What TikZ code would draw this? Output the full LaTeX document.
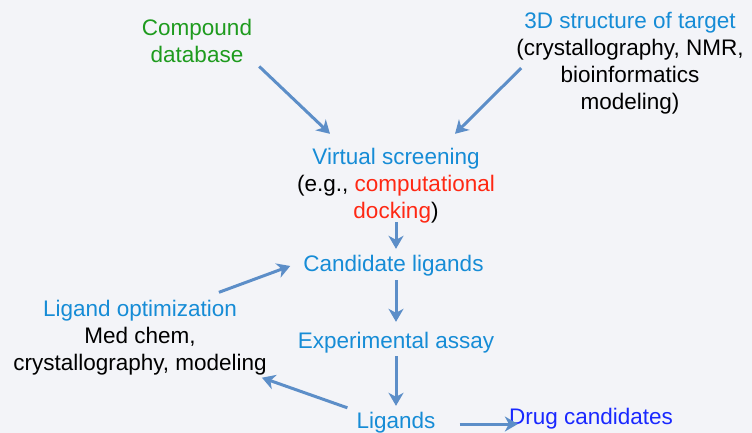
\documentclass[tikz,border=0pt]{standalone}
\usepackage{fontspec}
\setmainfont{Liberation Sans}
\usetikzlibrary{arrows.meta}
\definecolor{bgcol}{RGB}{243,244,248}
\definecolor{tblue}{RGB}{22,140,214}
\definecolor{tgreen}{RGB}{30,155,30}
\definecolor{tred}{RGB}{255,40,20}
\definecolor{dblue}{RGB}{25,40,255}
\definecolor{arrcol}{RGB}{92,142,200}
\begin{document}
\begin{tikzpicture}[x=1pt,y=-1pt,
        lbl/.style={inner sep=0pt,align=center,font=\fontsize{22.5}{27}\selectfont},
        arr/.style={draw=arrcol,line width=3pt,-{Stealth[length=13pt,width=15pt,inset=4pt]}}]
        \useasboundingbox[fill=bgcol] (0,0) rectangle (752,433);
        % text blocks
        \node[lbl,text=tgreen] (db) at (197,40.5) {Compound\\database};
        \node[lbl] (target) at (630,63) {\textcolor{tblue}{3D structure of target}\\(crystallography, NMR,\\bioinformatics\\modeling)};
        \node[lbl] (vs) at (396,185.5) {\textcolor{tblue}{Virtual screening}\\(e.g., \textcolor{tred}{computational}\\\textcolor{tred}{docking})};
        \node[lbl,text=tblue] (cand) at (393.5,265.5) {Candidate ligands};
        \node[lbl] (opt) at (140,338) {\textcolor{tblue}{Ligand optimization}\\Med chem,\\crystallography, modeling};
        \node[lbl,text=tblue] (assay) at (396,342.5) {Experimental assay};
        \node[lbl,text=tblue] (lig) at (396,422.5) {Ligands};
        \node[lbl,text=dblue] (drug) at (591,418.5) {Drug candidates};
        % arrows
        \draw[arr] ([shift={(7,4)}]db.south east) -- ([shift={(33,-14)}]vs.north west);
        \draw[arr] ([shift={(5,5)}]target.west) -- ([shift={(-40,-14)}]vs.north east);
        \draw[arr] ([yshift=1pt]vs.south) -- ([yshift=6pt]vs.south |- cand.north);
        \draw[arr] ([yshift=-4pt]vs.south |- cand.south) -- ([yshift=10pt]vs.south |- assay.north);
        \draw[arr] ([yshift=-3pt]assay.south) -- ([yshift=6pt]lig.north);
        \draw[arr] ([shift={(24,1.5)}]lig.east) -- ([shift={(9,5.5)}]drug.west);
        \draw[arr] ([shift={(-9,-4)}]lig.north west) -- ([shift={(-5,2)}]opt.south east);
        \draw[arr] ([shift={(-48,-8)}]opt.north east) -- ([shift={(-13,0.5)}]cand.west);
\end{tikzpicture}
\end{document}
